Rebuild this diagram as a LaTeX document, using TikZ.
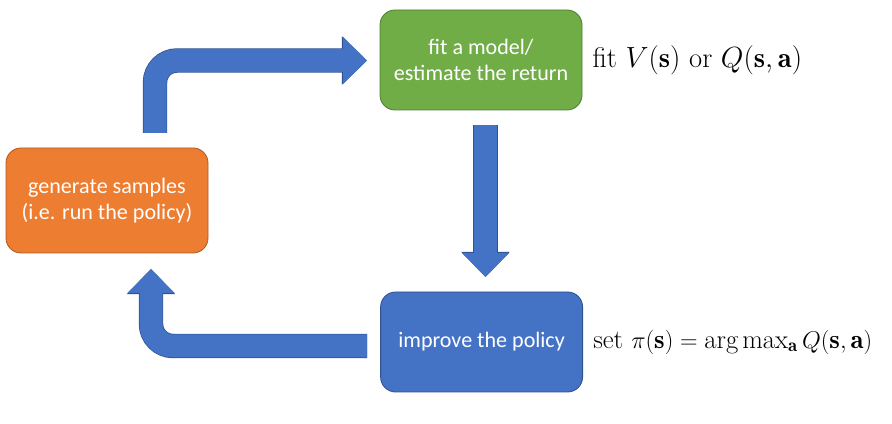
\documentclass[tikz,border=0pt]{standalone}
\usepackage{fontspec}
\usepackage{amsmath}
\usetikzlibrary{arrows.meta}
\newfontfamily\boxfont{Carlito}
\begin{document}
\begin{tikzpicture}
    % Define colors
    \definecolor{genfill}{RGB}{237,125,49} % Orange
    \definecolor{genedge}{RGB}{174,90,33}
    \definecolor{fitfill}{RGB}{112,173,71} % Green
    \definecolor{fitedge}{RGB}{80,126,50}
    \definecolor{polfill}{RGB}{68,114,196} % Blue
    \definecolor{poledge}{RGB}{47,82,143}

    % Styles
    \tikzset{
        stepbox/.style={rectangle, rounded corners=0.375cm, minimum width=5.05cm, minimum height=2.5cm,
            align=center, text=white, line width=0.6pt, font=\boxfont\fontsize{15.7}{19}\selectfont},
        blockarrow/.style={draw=polfill, line width=0.575cm, rounded corners=0.55cm,
            -{Triangle[width=1.175cm, length=0.6cm, line width=0pt]},
            preaction={draw=poledge, line width=0.61cm, -{Triangle[width=1.22cm, length=0.63cm, line width=0pt]}}},
        mathlabel/.style={anchor=west, inner sep=0pt, font=\fontsize{20.3}{24}\selectfont}
    }

    % Canvas
    \useasboundingbox (0,0) rectangle (22.3,10.6);

    % Boxes
    \node[stepbox, fill=fitfill, draw=fitedge] (fit) at (12.025,9.1) {fit a model/\\estimate the return};
    \node[stepbox, fill=polfill, draw=poledge] (improve) at (12.04,2.05) {improve the policy};
    \node[stepbox, fill=genfill, draw=genedge, minimum height=2.625cm] (gen) at (2.675,5.5875) {generate samples\\(i.e. run the policy)};

    % Labels
    \node[mathlabel] (fitlabel) at ([xshift=0.25cm]fit.east) {fit $V(\mathbf{s})$ or $Q(\mathbf{s},\mathbf{a})$};
    \node[mathlabel, font=\fontsize{19}{23}\selectfont] (setlabel) at ([xshift=0.25cm]improve.east) {set $\pi(\mathbf{s}) = \arg\max_{\mathbf{a}} Q(\mathbf{s},\mathbf{a})$};

    % Arrow ends
    \coordinate (genout) at (3.875,7.275);
    \coordinate (fitin) at (9.175,9.0875);
    \coordinate (fitout) at (12.1375,7.475);
    \coordinate (improvein) at (12.1375,3.675);
    \coordinate (improveout) at (9.175,1.95);
    \coordinate (genin) at (3.775,3.875);

    % Arrows
    \draw[blockarrow] (genout) |- (fitin);
    \draw[blockarrow] (fitout) -- (improvein);
    \draw[blockarrow] (improveout) -| (genin);
\end{tikzpicture}
\end{document}
